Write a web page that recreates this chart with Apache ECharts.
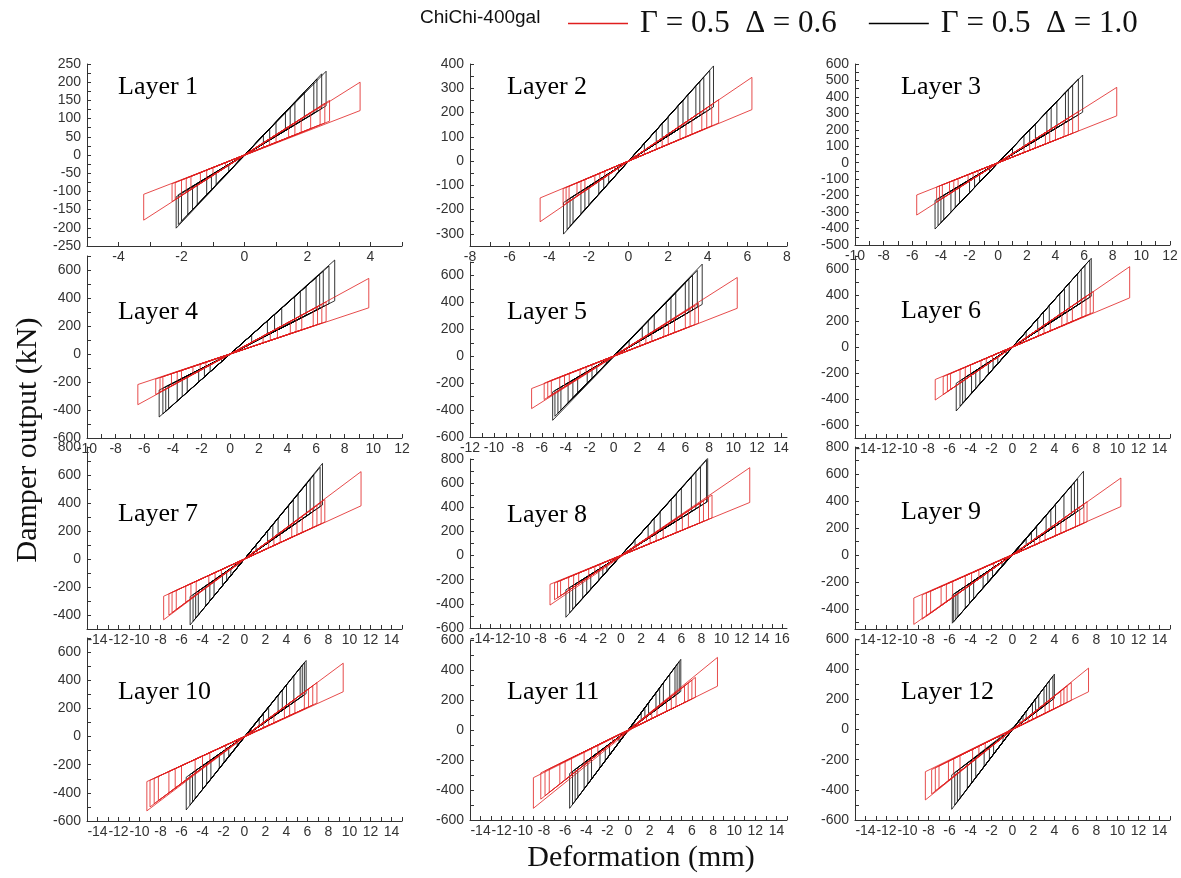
<!DOCTYPE html>
<html>
<head>
<meta charset="utf-8">
<script src="https://cdn.jsdelivr.net/npm/echarts@6/dist/echarts.min.js"></script>
<style>
  html, body { margin: 0; padding: 0; background: #fff; }
  #chart { width: 1181px; height: 878px; }
</style>
</head>
<body>
<div id="chart"></div>
<script>
// Damper hysteresis, ChiChi 400 gal record, 12 storeys.
// Each loop is stored as its reversal points: [deformation, force before reversal, force after reversal].
const seriesNames = ['Γ = 0.5  Δ = 0.6', 'Γ = 0.5  Δ = 1.0'];
const layerNames = ['Layer 1','Layer 2','Layer 3','Layer 4','Layer 5','Layer 6','Layer 7','Layer 8','Layer 9','Layer 10','Layer 11','Layer 12'];

const red1 = [[3.67,200,122],[-3.2,-108,-179],[2.7,150,93],[-2.3,-79,-128],[2.4,133,83],[-2.0,-69,-111],[2.1,117,72],[-1.7,-59,-94],[1.8,100,62],[-1.4,-48,-78],[1.4,78,48],[-1.0,-35,-56],[1.0,56,35],[-0.6,-21,-33],[0.6,33,21],
  [-2.2,-76,-122],[2.55,142,88],[-1.85,-64,-103],[1.6,89,55],[-1.2,-41,-67],[0.8,44,28]];
const black1 = [[2.59,230,135],[-2.17,-115,-201],[2.45,223,127],[-2.0,-104,-182],[2.2,200,114],[-1.8,-94,-164],[1.9,173,99],[-1.5,-78,-137],[1.6,146,83],[-1.2,-62,-109],[1.3,118,68],[-0.9,-47,-82],[1.0,91,52],[-0.5,-26,-46],[0.6,55,31],
  [-2.1,-109,-191],[2.3,209,120],[-1.65,-86,-150],[1.45,132,75],[-1.05,-55,-96],[0.8,73,42]];

const red2 = [[6.23,345,212],[-4.46,-152,-250],[4.55,253,157],[-3.3,-114,-183],[4.2,233,145],[-3.0,-104,-167],[3.7,205,128],[-2.6,-90,-144],[3.2,178,110],[-2.2,-76,-122],[2.6,144,90],[-1.7,-59,-94],[2.0,111,69],[-1.2,-41,-67],[1.4,78,48],[-0.7,-24,-39],[0.8,44,28],
  [-3.15,-109,-175],[3.95,219,136],[-2.4,-83,-133],[2.9,161,100],[-1.45,-50,-80],[1.7,94,59]];
const black2 = [[4.29,392,223],[-3.28,-171,-301],[4.1,373,213],[-3.1,-161,-282],[3.8,346,198],[-2.8,-146,-255],[3.4,309,177],[-2.4,-125,-218],[3.0,273,156],[-2.0,-104,-182],[2.5,228,130],[-1.5,-78,-137],[2.0,182,104],[-1.0,-52,-91],[1.4,127,73],[-0.5,-26,-46],[0.8,73,42],
  [-2.95,-153,-268],[3.6,328,187],[-2.2,-114,-200],[2.75,250,143],[-1.25,-65,-114],[1.7,155,88]];

const red3 = [[8.28,458,285],[-5.69,-196,-318],[5.6,311,193],[-4.3,-148,-239],[5.2,289,179],[-3.9,-135,-216],[4.6,255,159],[-3.4,-117,-189],[4.0,222,138],[-2.8,-97,-155],[3.3,183,114],[-2.1,-72,-117],[2.6,144,90],[-1.4,-48,-78],[1.8,100,62],[-0.7,-24,-39],[1.0,56,35],
  [-4.1,-141,-228],[4.9,272,169],[-3.1,-107,-172],[3.6,200,124],[-1.75,-60,-97],[2.2,122,76]];
const black3 = [[5.9,533,307],[-4.41,-229,-403],[5.6,510,291],[-4.2,-218,-382],[5.2,473,270],[-3.8,-198,-346],[4.7,428,244],[-3.3,-172,-300],[4.1,373,213],[-2.7,-140,-246],[3.4,309,177],[-2.0,-104,-182],[2.6,237,135],[-1.3,-68,-118],[1.8,164,94],[-0.6,-31,-55],[1.0,91,52],
  [-4.0,-208,-364],[4.9,446,255],[-3.0,-156,-273],[3.7,337,192],[-1.65,-86,-150],[2.2,200,114]];

const red4 = [[9.68,540,330],[-6.45,-218,-362],[6.7,372,231],[-5.2,-179,-289],[6.4,355,221],[-4.7,-162,-261],[5.8,322,200],[-4.1,-141,-228],[5.0,278,173],[-3.4,-117,-189],[4.2,233,145],[-2.6,-90,-144],[3.3,183,114],[-1.7,-59,-94],[2.3,128,79],[-0.8,-28,-44],[1.2,67,41],
  [-4.9,-169,-272],[6.1,339,210],[-3.7,-128,-205],[4.6,255,159],[-2.1,-72,-117],[2.8,155,97]];
const black4 = [[7.3,671,380],[-4.96,-258,-450],[6.9,628,359],[-4.7,-244,-428],[6.5,592,338],[-4.3,-224,-391],[6.0,546,312],[-3.7,-192,-337],[5.3,482,276],[-3.0,-156,-273],[4.5,410,234],[-2.2,-114,-200],[3.6,328,187],[-1.4,-73,-127],[2.6,237,135],[-0.6,-31,-55],[1.5,137,78],
  [-4.5,-234,-410],[6.25,569,325],[-3.35,-174,-305],[4.9,446,255],[-1.8,-94,-164],[3.1,282,161]];

const red5 = [[10.34,585,356],[-6.85,-240,-389],[7.1,394,245],[-5.8,-200,-322],[6.8,377,235],[-5.2,-179,-289],[6.0,333,207],[-4.5,-155,-250],[5.1,283,176],[-3.7,-128,-205],[4.2,233,145],[-2.8,-97,-155],[3.2,178,110],[-1.8,-62,-100],[2.2,122,76],[-0.9,-31,-50],[1.1,61,38],
  [-5.5,-190,-305],[6.4,355,221],[-4.1,-141,-228],[4.6,255,159],[-2.3,-79,-128],[2.7,150,93]];
const black5 = [[7.41,684,385],[-5.09,-265,-476],[7.0,637,364],[-4.9,-255,-446],[6.6,601,343],[-4.4,-229,-400],[6.0,546,312],[-3.8,-198,-346],[5.2,473,270],[-3.0,-156,-273],[4.4,400,229],[-2.2,-114,-200],[3.4,309,177],[-1.4,-73,-127],[2.4,218,125],[-0.6,-31,-55],[1.3,118,68],
  [-4.65,-242,-423],[6.3,573,328],[-3.4,-177,-309],[4.8,437,250],[-1.8,-94,-164],[2.9,264,151]];

const red6 = [[11.16,618,378],[-7.36,-250,-408],[7.7,427,266],[-6.6,-228,-366],[7.4,411,255],[-5.9,-204,-327],[6.6,366,228],[-5.0,-173,-278],[5.7,316,197],[-4.0,-138,-222],[4.7,261,162],[-3.0,-104,-167],[3.6,200,124],[-1.9,-66,-105],[2.5,139,86],[-0.9,-31,-50],[1.3,72,45],
  [-6.2,-214,-344],[7.0,389,242],[-4.5,-155,-250],[5.2,289,179],[-2.5,-86,-139],[3.0,167,104]];
const black6 = [[7.5,682,390],[-5.36,-279,-492],[7.35,669,382],[-5.0,-260,-455],[6.9,628,359],[-4.5,-234,-410],[6.2,564,322],[-3.9,-203,-355],[5.4,491,281],[-3.1,-161,-282],[4.5,410,234],[-2.3,-120,-209],[3.5,319,182],[-1.4,-73,-127],[2.4,218,125],[-0.6,-31,-55],[1.3,118,68],
  [-4.75,-247,-432],[6.55,596,341],[-3.5,-182,-319],[4.95,450,257],[-1.85,-96,-168],[2.95,268,153]];

const red7 = [[11.1,624,380],[-7.7,-266,-434],[7.65,425,264],[-7.2,-248,-400],[7.3,405,252],[-6.5,-224,-361],[6.5,361,224],[-5.6,-193,-311],[5.5,305,190],[-4.6,-159,-255],[4.5,250,155],[-3.4,-117,-189],[3.4,189,117],[-2.2,-76,-122],[2.3,128,79],[-1.0,-35,-56],[1.2,67,41],
  [-6.9,-238,-383],[6.9,383,238],[-5.1,-176,-283],[5.0,278,173],[-2.8,-97,-155],[2.8,155,97]];
const black7 = [[7.43,683,386],[-5.18,-269,-471],[7.2,655,374],[-4.9,-255,-446],[6.6,601,343],[-4.4,-229,-400],[5.9,537,307],[-3.7,-192,-337],[5.1,464,265],[-2.9,-151,-264],[4.2,382,218],[-2.1,-109,-191],[3.2,291,166],[-1.3,-68,-118],[2.2,200,114],[-0.6,-31,-55],[1.1,100,57],
  [-4.65,-242,-423],[6.25,569,325],[-3.3,-172,-300],[4.65,423,242],[-1.7,-88,-155],[2.7,246,140]];

const red8 = [[12.8,728,440],[-7.05,-238,-410],[9.05,502,312],[-6.6,-228,-366],[8.7,483,300],[-6.0,-207,-333],[7.8,433,269],[-5.2,-179,-289],[6.7,372,231],[-4.2,-145,-233],[5.5,305,190],[-3.2,-110,-178],[4.2,233,145],[-2.1,-72,-117],[2.9,161,100],[-1.0,-35,-56],[1.5,83,52],
  [-6.3,-217,-350],[8.2,455,283],[-4.7,-162,-261],[6.1,339,210],[-2.6,-90,-144],[3.5,194,121]];
const black8 = [[8.62,808,448],[-5.47,-284,-511],[8.5,790,442],[-5.1,-265,-474],[7.9,735,411],[-4.5,-234,-419],[7.0,651,364],[-3.8,-198,-353],[6.0,558,312],[-3.0,-156,-279],[5.0,465,260],[-2.2,-114,-205],[3.9,363,203],[-1.4,-73,-130],[2.7,251,140],[-0.6,-31,-56],[1.4,130,73],
  [-4.8,-250,-443],[7.45,693,387],[-3.4,-177,-316],[5.5,512,286],[-1.8,-94,-167],[3.3,307,172]];

const red9 = [[10.32,570,358],[-9.4,-320,-516],[7.1,394,245],[-8.6,-297,-477],[6.8,377,235],[-7.8,-269,-433],[6.0,333,207],[-6.8,-235,-377],[5.1,283,176],[-5.7,-197,-316],[4.1,228,141],[-4.5,-155,-250],[3.1,172,107],[-3.2,-110,-178],[2.1,117,72],[-1.8,-62,-100],[1.0,56,35],
  [-8.2,-283,-455],[6.4,355,221],[-6.3,-217,-350],[4.6,255,159],[-3.9,-135,-216],[2.6,144,90]];
const black9 = [[6.76,620,352],[-5.73,-298,-507],[6.2,564,322],[-5.6,-291,-496],[5.6,510,291],[-5.2,-270,-460],[4.9,446,255],[-4.5,-234,-398],[4.1,373,213],[-3.7,-192,-327],[3.2,291,166],[-2.8,-146,-248],[2.3,209,120],[-1.9,-99,-168],[1.3,118,68],[-1.0,-52,-89],[0.6,55,31],
  [-5.4,-281,-478],[5.9,537,307],[-4.1,-213,-363],[3.65,332,190],[-2.35,-122,-208],[1.8,164,94]];

const red10 = [[9.4,521,318],[-9.3,-320,-528],[6.9,383,238],[-9.0,-311,-500],[6.5,361,224],[-8.2,-283,-455],[5.7,316,197],[-7.2,-248,-400],[4.8,266,166],[-6.0,-207,-333],[3.8,211,131],[-4.7,-162,-261],[2.8,155,97],[-3.3,-114,-183],[1.8,100,62],[-1.8,-62,-100],[0.9,50,31],
  [-8.6,-297,-477],[6.1,339,210],[-6.6,-228,-366],[4.3,239,148],[-4.0,-138,-222],[2.3,128,79]];
const black10 = [[5.87,540,305],[-5.55,-289,-521],[5.7,525,296],[-5.2,-270,-488],[5.3,488,276],[-4.7,-244,-441],[4.7,432,244],[-4.0,-208,-375],[4.0,368,208],[-3.2,-166,-300],[3.2,294,166],[-2.4,-125,-225],[2.3,212,120],[-1.5,-78,-141],[1.4,129,73],[-0.7,-36,-66],[0.6,55,31],
  [-4.95,-257,-464],[5.5,506,286],[-3.6,-187,-338],[3.6,331,187],[-1.95,-101,-183],[1.8,166,94]];

const red11 = [[8.42,484,292],[-9.0,-318,-522],[6.33,351,218],[-8.3,-286,-461],[6.0,333,207],[-7.5,-259,-416],[5.3,294,183],[-6.5,-224,-361],[4.5,250,155],[-5.4,-186,-300],[3.6,200,124],[-4.2,-145,-233],[2.7,150,93],[-2.9,-100,-161],[1.7,94,59],[-1.5,-52,-83],[0.8,44,28],
  [-7.9,-273,-438],[5.65,314,195],[-6.0,-207,-333],[4.05,225,140],[-3.5,-121,-194],[2.2,122,76]];
const black11 = [[4.95,471,257],[-5.57,-290,-522],[4.8,456,250],[-5.3,-276,-497],[4.4,418,229],[-4.8,-250,-450],[3.9,371,203],[-4.2,-218,-394],[3.3,314,172],[-3.5,-182,-328],[2.6,247,135],[-2.7,-140,-253],[1.9,181,99],[-1.8,-94,-169],[1.2,114,62],[-0.9,-47,-84],[0.5,48,26],
  [-5.05,-263,-473],[4.6,437,239],[-3.85,-200,-361],[2.95,280,153],[-2.2,-114,-206],[1.55,147,81]];

const red12 = [[7.24,407,250],[-8.3,-280,-467],[5.6,311,193],[-7.7,-266,-427],[5.2,289,179],[-7.0,-242,-389],[4.6,255,159],[-6.1,-210,-339],[3.9,216,135],[-5.0,-173,-278],[3.1,172,107],[-3.8,-131,-211],[2.3,128,79],[-2.6,-90,-144],[1.5,83,52],[-1.3,-45,-72],[0.7,39,24],
  [-7.35,-254,-408],[4.9,272,169],[-5.6,-193,-311],[3.5,194,121],[-3.2,-110,-178],[1.9,105,66]];
const black12 = [[3.99,367,207],[-5.79,-301,-529],[3.85,354,200],[-5.5,-286,-501],[3.5,322,182],[-5.0,-260,-455],[3.0,276,156],[-4.3,-224,-391],[2.5,230,130],[-3.5,-182,-319],[1.9,175,99],[-2.7,-140,-246],[1.3,120,68],[-1.8,-94,-164],[0.7,64,36],[-0.9,-47,-82],[0.3,28,16],
  [-5.25,-273,-480],[3.25,299,169],[-3.9,-203,-356],[2.2,202,114],[-2.2,-114,-201],[1.0,92,52]];

const redLoops = [red1, red2, red3, red4, red5, red6, red7, red8, red9, red10, red11, red12];
const blackLoops = [black1, black2, black3, black4, black5, black6, black7, black8, black9, black10, black11, black12];

// Axis ranges and labelled tick values for each panel
const xRanges = [[-5,5],[-8,8],[-10,12],[-10,12],[-12,14.5],[-15,15],[-15,15],[-15,16.5],[-15,15],[-15,15],[-15,15],[-15,15]];
const xLabels5 = [-4,-2,0,2,4];
const xLabels8 = [-8,-6,-4,-2,0,2,4,6,8];
const xLabels10 = [-10,-8,-6,-4,-2,0,2,4,6,8,10,12];
const xLabels12 = [-12,-10,-8,-6,-4,-2,0,2,4,6,8,10,12,14];
const xLabels14 = [-14,-12,-10,-8,-6,-4,-2,0,2,4,6,8,10,12,14];
const xLabels16 = [-14,-12,-10,-8,-6,-4,-2,0,2,4,6,8,10,12,14,16];
const xLabels = [xLabels5, xLabels8, xLabels10, xLabels10, xLabels12, xLabels14, xLabels14, xLabels16, xLabels14, xLabels14, xLabels14, xLabels14];

const yRanges = [[-250,250],[-350,400],[-500,600],[-600,700],[-600,700],[-700,700],[-500,800],[-600,800],[-550,800],[-600,700],[-600,600],[-600,600]];
const yLabels1 = [-250,-200,-150,-100,-50,0,50,100,150,200,250];
const yLabels2 = [-300,-200,-100,0,100,200,300,400];
const yLabels3 = [-500,-400,-300,-200,-100,0,100,200,300,400,500,600];
const yLabels600 = [-600,-400,-200,0,200,400,600];
const yLabels800 = [-400,-200,0,200,400,600,800];
const yLabels800b = [-600,-400,-200,0,200,400,600,800];
const yLabels = [yLabels1, yLabels2, yLabels3, yLabels600, yLabels600, yLabels600, yLabels800, yLabels800b, yLabels800, yLabels600, yLabels600, yLabels600];
const yTickSteps = [25, 50, 50, 100, 100, 100, 100, 100, 100, 100, 100, 100];

// Panel placement (pixels): column left/width, per-panel top/bottom
const colLeft = [87, 470, 855];
const colWidth = [315, 317, 315];
const panelTop = [64, 64, 64, 256, 262, 256, 447, 459, 447, 638, 640, 639];
const panelBottom = [246, 246, 245, 438, 437, 438, 629, 628, 629, 821, 820, 820];
const labelPos = [[118,87],[507,87],[901,87],[118,312],[507,312],[901,311],[118,514],[507,515],[901,512],[118,692],[507,692],[901,692]];

function loopPath(revs) {
  const pts = [[0, 0]];
  revs.forEach(r => { pts.push([r[0], r[1]]); pts.push([r[0], r[2]]); });
  return pts;
}
function tickList(lo, hi, step) {
  const out = [];
  for (let v = Math.ceil(lo / step) * step; v <= hi + 1e-9; v += step) out.push(+v.toFixed(6));
  return out;
}

const axisColor = '#333';
const labelFont = { fontFamily: 'Liberation Sans', fontSize: 14, color: '#333' };
const grids = [], xAxes = [], yAxes = [], series = [], graphics = [];

for (let i = 0; i < 12; i++) {
  const c = i % 3;
  grids.push({ left: colLeft[c], width: colWidth[c], top: panelTop[i], height: panelBottom[i] - panelTop[i], containLabel: false });
  xAxes.push({
    type: 'value', gridIndex: i, min: xRanges[i][0], max: xRanges[i][1],
    axisLine: { show: true, onZero: false, lineStyle: { color: axisColor, width: 1 } },
    axisTick: { show: true, inside: true, length: 4, customValues: tickList(xRanges[i][0], xRanges[i][1], 1), lineStyle: { color: axisColor } },
    axisLabel: Object.assign({ show: true, margin: 4, customValues: xLabels[i] }, labelFont),
    splitLine: { show: false }
  });
  yAxes.push({
    type: 'value', gridIndex: i, min: yRanges[i][0], max: yRanges[i][1],
    axisLine: { show: true, onZero: false, lineStyle: { color: axisColor, width: 1 } },
    axisTick: { show: true, inside: true, length: 4, customValues: tickList(yRanges[i][0], yRanges[i][1], yTickSteps[i]), lineStyle: { color: axisColor } },
    axisLabel: Object.assign({ show: true, margin: 6, customValues: yLabels[i] }, labelFont),
    splitLine: { show: false }
  });
  series.push({
    name: seriesNames[1], type: 'line', xAxisIndex: i, yAxisIndex: i, symbol: 'none',
    data: loopPath(blackLoops[i]), lineStyle: { color: '#000', width: 0.8 }, itemStyle: { color: '#000' }, z: 2
  });
  series.push({
    name: seriesNames[0], type: 'line', xAxisIndex: i, yAxisIndex: i, symbol: 'none',
    data: loopPath(redLoops[i]), lineStyle: { color: '#e01e1e', width: 0.8 }, itemStyle: { color: '#e01e1e' }, z: 3
  });
  graphics.push({
    type: 'text', x: labelPos[i][0], y: labelPos[i][1],
    style: { text: layerNames[i], font: '26px "Liberation Serif"', fill: '#000', verticalAlign: 'middle', textVerticalAlign: 'middle' }
  });
}

graphics.push({
  type: 'text', x: 420, y: 18,
  style: { text: 'ChiChi-400gal', font: '19px "Liberation Sans"', fill: '#111', verticalAlign: 'middle', textVerticalAlign: 'middle' }
});
graphics.push({
  type: 'text', x: 28, y: 440, rotation: Math.PI / 2,
  style: { text: 'Damper output (kN)', font: '30px "Liberation Serif"', fill: '#111', align: 'center', textAlign: 'center', verticalAlign: 'middle', textVerticalAlign: 'middle' }
});
graphics.push({
  type: 'text', x: 641, y: 858,
  style: { text: 'Deformation (mm)', font: '30px "Liberation Serif"', fill: '#111', align: 'center', textAlign: 'center', verticalAlign: 'middle', textVerticalAlign: 'middle' }
});

const chart = echarts.init(document.getElementById('chart'));
chart.setOption({
  animation: false,
  backgroundColor: '#fff',
  legend: {
    data: seriesNames, left: 563, top: 3, icon: 'rect', itemWidth: 60, itemHeight: 1.5, itemGap: 32,
    textStyle: { fontFamily: 'Liberation Serif', fontSize: 31, color: '#111', padding: [0, 0, 0, 7] }
  },
  grid: grids, xAxis: xAxes, yAxis: yAxes, series: series, graphic: graphics
});
</script>
</body>
</html>
